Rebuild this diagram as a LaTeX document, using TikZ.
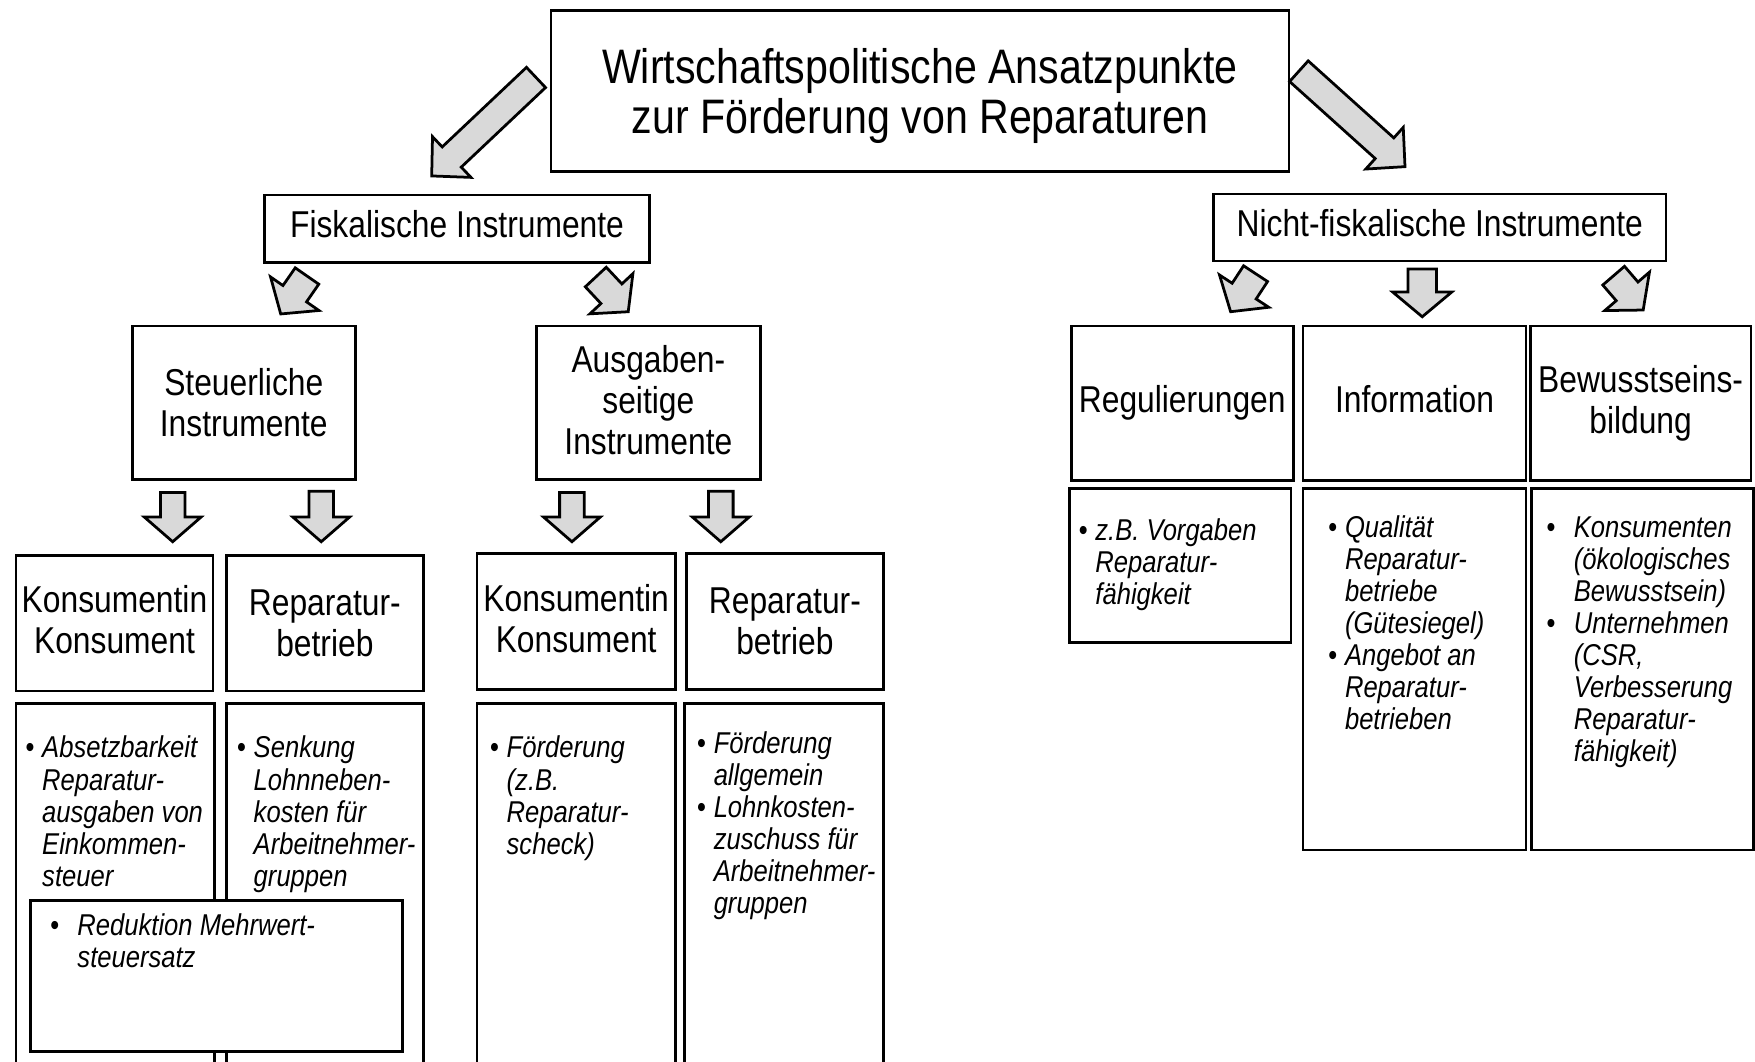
\documentclass[tikz,border=0pt]{standalone}
\usepackage{fontspec}
\setmainfont[FakeStretch=0.85]{Liberation Sans}
\usepackage{tikz}
\usetikzlibrary{
    calc,
    positioning
}
\tikzset{
    box/.style={draw, line width=0.7pt, rectangle, inner sep=0pt, anchor=north west, align=center},
    topbox/.style={box, font=\fontsize{12.3}{12.6}\selectfont},
    headbox/.style={box, font=\fontsize{9.5}{10.4}\selectfont},
    listbox/.style={box, fill=white},
    listtext/.style={anchor=north west, inner sep=0pt, align=left,
        font=\fontsize{7.65}{8.14}\selectfont\itshape},
    blockarrow/.style={draw, line width=0.7pt, fill=black!15, line join=miter}
}
% bullet with narrow and wide indent
\newcommand{\lbul}{\makebox[0.15cm][l]{\textbullet}}
\newcommand{\lpad}{\hspace*{0.15cm}}
\newcommand{\wbul}{\makebox[0.245cm][l]{\textbullet}}
\newcommand{\wpad}{\hspace*{0.245cm}}
% fat arrow: tail, tip, shaft half width, head half width, head length
\newcommand{\fatarrow}[5]{
    \coordinate (neck) at ($(#2)!#5!(#1)$);
    \draw[blockarrow] ($(#1)!#3!90:(#2)$) -- ($(neck)!#3!-90:(#1)$)
        -- ($(neck)!#4!-90:(#1)$) -- (#2) -- ($(neck)!#4!90:(#1)$)
        -- ($(neck)!#3!90:(#1)$) -- ($(#1)!#3!-90:(#2)$) -- cycle;
}

\begin{document}
\begin{tikzpicture}[x=0.01cm, y=0.01cm]
    \useasboundingbox (0,0) rectangle (1568,-948);
    \clip (0,0) rectangle (1568,-948);

    % top level
    \node[topbox, minimum width=6.59cm, minimum height=1.44cm, text depth=0pt] (ziel) at (491,-8)
        {Wirtschaftspolitische Ansatzpunkte\\zur Förderung von Reparaturen};
    \node[headbox, minimum width=3.44cm, minimum height=0.6cm, text depth=0.08cm] (fisk) at (235,-173) {Fiskalische Instrumente};
    \node[headbox, minimum width=4.04cm, minimum height=0.6cm, text depth=0.08cm] (nfisk) at (1083,-172) {Nicht-fiskalische Instrumente};

    % second level
    \node[headbox, minimum width=1.99cm, minimum height=1.37cm] (steuer) at (117,-290) {Steuerliche\\Instrumente};
    \node[headbox, minimum width=2.00cm, minimum height=1.37cm, text depth=0.055cm] (ausg) at (478,-290) {Ausgaben-\\seitige\\Instrumente};
    \node[headbox, minimum width=1.98cm, minimum height=1.38cm] (regul) at (956,-290) {Regulierungen};
    \node[headbox, minimum width=1.99cm, minimum height=1.38cm, text depth=0.07cm] (info) at (1163,-290) {Information};
    \node[headbox, minimum width=1.97cm, minimum height=1.38cm] (bewus) at (1366,-290) {Bewusstseins-\\bildung};

    % addressees
    \node[headbox, minimum width=1.76cm, minimum height=1.21cm, text depth=0.06cm] (konsA) at (13,-495) {Konsumentin\\Konsument};
    \node[headbox, minimum width=1.76cm, minimum height=1.21cm] (betrA) at (201,-495) {Reparatur-\\betrieb};
    \node[headbox, minimum width=1.77cm, minimum height=1.22cm, text depth=0.06cm] (konsB) at (425,-493) {Konsumentin\\Konsument};
    \node[headbox, minimum width=1.76cm, minimum height=1.22cm] (betrB) at (612,-493) {Reparatur-\\betrieb};

    % measures
    \node[listbox, minimum width=1.77cm, minimum height=3.4cm] (listA) at (13,-627) {};
    \node[listbox, minimum width=1.76cm, minimum height=3.4cm] (listB) at (201,-627) {};
    \node[listbox, minimum width=1.77cm, minimum height=3.4cm] (listC) at (425,-627) {};
    \node[listbox, minimum width=1.78cm, minimum height=3.4cm] (listD) at (610,-627) {};
    \node[listbox, minimum width=3.32cm, minimum height=1.35cm] (mwst) at (26,-803) {};
    \node[listbox, minimum width=1.98cm, minimum height=1.38cm] (listR) at (954,-435) {};
    \node[listbox, minimum width=1.99cm, minimum height=3.23cm] (listI) at (1163,-435) {};
    \node[listbox, minimum width=1.98cm, minimum height=3.23cm] (listW) at (1367,-435) {};

    \node[listtext] at ($(listA.north west)+(9,-30)$)
        {\lbul Absetzbarkeit\\\lpad Reparatur-\\\lpad ausgaben von\\\lpad Einkommen-\\\lpad steuer};
    \node[listtext] at ($(listB.north west)+(10,-30)$)
        {\lbul Senkung\\\lpad Lohnneben-\\\lpad kosten für\\\lpad Arbeitnehmer-\\\lpad gruppen};
    \node[listtext] at ($(listC.north west)+(12,-30)$)
        {\lbul Förderung\\\lpad (z.B.\\\lpad Reparatur-\\\lpad scheck)};
    \node[listtext] at ($(listD.north west)+(12,-26)$)
        {\lbul Förderung\\\lpad allgemein\\\lbul Lohnkosten-\\\lpad zuschuss für\\\lpad Arbeitnehmer-\\\lpad gruppen};
    \node[listtext] at ($(mwst.north west)+(18,-13)$)
        {\wbul Reduktion Mehrwert-\\\wpad steuersatz};
    \node[listtext] at ($(listR.north west)+(9,-28)$)
        {\lbul z.B. Vorgaben\\\lpad Reparatur-\\\lpad fähigkeit};
    \node[listtext] at ($(listI.north west)+(23,-25)$)
        {\lbul Qualität\\\lpad Reparatur-\\\lpad betriebe\\\lpad (Gütesiegel)\\\lbul Angebot an\\\lpad Reparatur-\\\lpad betrieben};
    \node[listtext] at ($(listW.north west)+(14,-26)$)
        {\wbul Konsumenten\\\wpad (ökologisches\\\wpad Bewusstsein)\\\wbul Unternehmen\\\wpad (CSR,\\\wpad Verbesserung\\\wpad Reparatur-\\\wpad fähigkeit)};

    % arrows
    \coordinate (z-l) at (478.9,-69.2);
    \coordinate (f-top) at (385.7,-157.2);
    \coordinate (z-r) at (1160.5,-63.6);
    \coordinate (n-top) at (1255.3,-148.9);
    \fatarrow{z-l}{f-top}{0.124cm}{0.25cm}{0.246cm}
    \fatarrow{z-r}{n-top}{0.124cm}{0.25cm}{0.246cm}

    \coordinate (f-l) at (274.3,-246.6);   \coordinate (st-top) at (250.8,-280.5);
    \coordinate (f-r) at (532.3,-247.5);   \coordinate (au-top) at (561.3,-278.5);
    \coordinate (n-l) at (1121.8,-244.5);  \coordinate (re-top) at (1099.5,-278.5);
    \coordinate (n-m) at (1270.7,-240.3);  \coordinate (in-top) at (1270.7,-283);
    \coordinate (n-r) at (1441.7,-246.3);  \coordinate (be-top) at (1468.1,-277);
    \foreach \a/\b in {f-l/st-top, f-r/au-top, n-l/re-top, n-m/in-top, n-r/be-top}{
        \fatarrow{\a}{\b}{0.128cm}{0.263cm}{0.22cm}
    }

    \coordinate (s-l) at (154.3,-440);  \coordinate (ka-top) at (154.3,-484);
    \coordinate (s-r) at (287,-439);    \coordinate (ba-top) at (287,-484);
    \coordinate (a-l) at (511,-440);    \coordinate (kb-top) at (511,-484);
    \coordinate (a-r) at (644,-439);    \coordinate (bb-top) at (644,-484);
    \foreach \a/\b in {s-l/ka-top, s-r/ba-top, a-l/kb-top, a-r/bb-top}{
        \fatarrow{\a}{\b}{0.11cm}{0.253cm}{0.22cm}
    }
\end{tikzpicture}
\end{document}
